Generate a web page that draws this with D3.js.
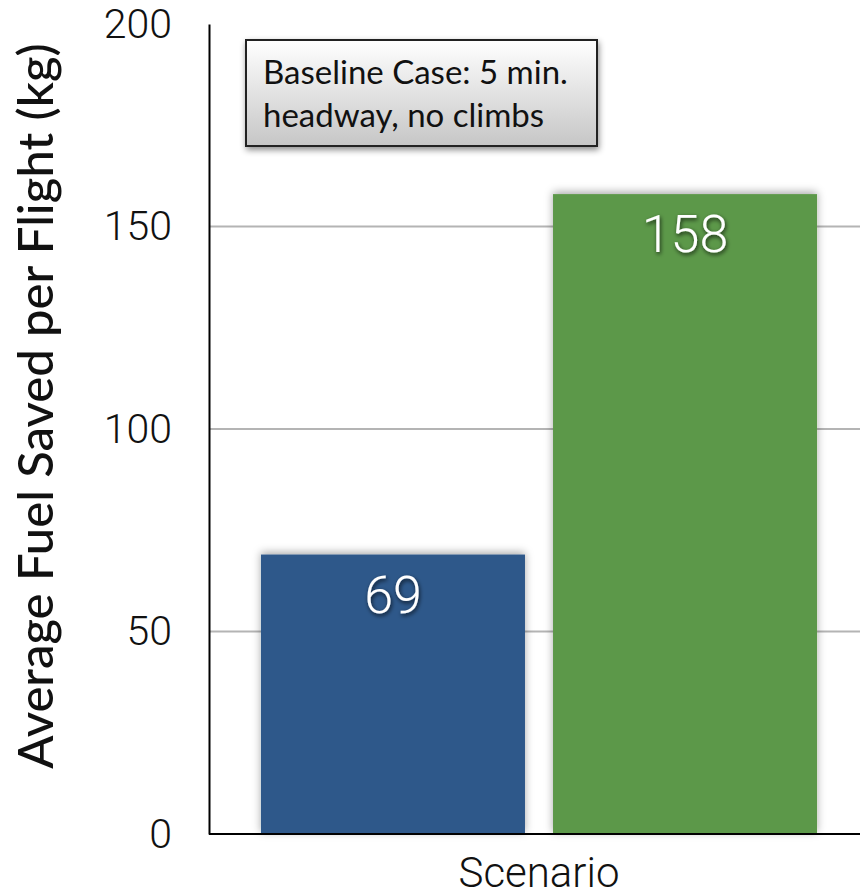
<!DOCTYPE html>
<html>
<head>
<meta charset="utf-8">
<script src="https://cdn.jsdelivr.net/npm/d3@7/dist/d3.min.js"></script>
<style>
  html, body { margin: 0; padding: 0; background: #fff; }
  svg { display: block; }
</style>
</head>
<body>
<script>
// Scenario results: average fuel saved per flight (kg)
const categories = ["Baseline", "Alternative"];
const values = [69, 158];
const barColors = ["#2E588A", "#5C984A"];
const yTicks = [0, 50, 100, 150, 200];
const yTitle = "Average Fuel Saved per Flight (kg)";
const xTitle = "Scenario";
const noteLines = ["Baseline Case: 5 min.", "headway, no climbs"];

const width = 860, height = 896;
const plot = { left: 209, top: 24, bottom: 834, right: 869 };

const svg = d3.select("body").append("svg")
  .attr("width", width).attr("height", height);

const defs = svg.append("defs");
const barShadow = defs.append("filter").attr("id", "barShadow")
  .attr("x", "-10%").attr("y", "-10%").attr("width", "120%").attr("height", "120%");
barShadow.append("feDropShadow").attr("dx", 0).attr("dy", -2)
  .attr("stdDeviation", 4).attr("flood-color", "#000").attr("flood-opacity", 0.35);

const textShadow = defs.append("filter").attr("id", "textShadow")
  .attr("x", "-20%").attr("y", "-20%").attr("width", "140%").attr("height", "140%");
textShadow.append("feDropShadow").attr("dx", 1).attr("dy", 2)
  .attr("stdDeviation", 2).attr("flood-color", "#000").attr("flood-opacity", 0.75);

const boxShadow = defs.append("filter").attr("id", "boxShadow")
  .attr("x", "-10%").attr("y", "-20%").attr("width", "120%").attr("height", "150%");
boxShadow.append("feDropShadow").attr("dx", 1).attr("dy", 3)
  .attr("stdDeviation", 3).attr("flood-color", "#000").attr("flood-opacity", 0.45);

const boxGrad = defs.append("linearGradient").attr("id", "boxGrad")
  .attr("x1", 0).attr("y1", 0).attr("x2", 0).attr("y2", 1);
boxGrad.append("stop").attr("offset", "0%").attr("stop-color", "#ffffff");
boxGrad.append("stop").attr("offset", "100%").attr("stop-color", "#c6c6c6");

const y = d3.scaleLinear().domain([0, 200]).range([plot.bottom, plot.top]);
const x = d3.scaleBand().domain(categories)
  .range([plot.left, plot.right]).paddingInner(0.096).paddingOuter(0.178);

// gridlines
svg.append("g").selectAll("line")
  .data(yTicks.filter(t => t > 0 && t < 200))
  .join("line")
  .attr("x1", plot.left).attr("x2", width)
  .attr("y1", d => y(d)).attr("y2", d => y(d))
  .attr("stroke", "#b4b4b4").attr("stroke-width", 2);

// bars
svg.append("g").selectAll("rect")
  .data(values)
  .join("rect")
  .attr("x", (d, i) => x(categories[i]))
  .attr("y", d => y(d))
  .attr("width", x.bandwidth())
  .attr("height", d => y(0) - y(d))
  .attr("fill", (d, i) => barColors[i])
  .attr("filter", "url(#barShadow)");

// value labels
svg.append("g").selectAll("text")
  .data(values)
  .join("text")
  .attr("x", (d, i) => x(categories[i]) + x.bandwidth() / 2)
  .attr("y", d => y(d) + 58)
  .attr("text-anchor", "middle")
  .attr("font-family", "Roboto, 'Liberation Sans', sans-serif")
  .attr("font-weight", 300)
  .attr("font-size", 52)
  .attr("fill", "#fff")
  .attr("filter", "url(#textShadow)")
  .text(d => d);

// axes
const yAxis = d3.axisLeft(y).tickValues(yTicks).tickSize(0).tickPadding(37);
const gy = svg.append("g").attr("transform", `translate(${plot.left},0)`).call(yAxis);
gy.select(".domain").attr("stroke", "#000").attr("stroke-width", 2);
gy.selectAll("text")
  .attr("font-family", "Roboto, 'Liberation Sans', sans-serif")
  .attr("font-weight", 300)
  .attr("font-size", 41)
  .attr("fill", "#111");

const xAxis = d3.axisBottom(x).tickSize(0).tickFormat("");
const gx = svg.append("g").attr("transform", `translate(0,${plot.bottom})`).call(xAxis);
gx.select(".domain").attr("stroke", "#000").attr("stroke-width", 2)
  .attr("d", `M${plot.left},0H${width}`);

// axis titles
svg.append("text")
  .attr("x", 539)
  .attr("y", 887)
  .attr("text-anchor", "middle")
  .attr("font-family", "Roboto, 'Liberation Sans', sans-serif")
  .attr("font-weight", 300)
  .attr("font-size", 42)
  .attr("fill", "#111")
  .text(xTitle);

svg.append("text")
  .attr("transform", `translate(53,406) rotate(-90)`)
  .attr("text-anchor", "middle")
  .attr("font-family", "Lato, 'Open Sans', sans-serif")
  .attr("font-weight", 500)
  .attr("font-size", 49)
  .attr("fill", "#111")
  .text(yTitle);

// annotation box
const note = svg.append("g");
note.append("rect")
  .attr("x", 246).attr("y", 40).attr("width", 351).attr("height", 106)
  .attr("fill", "url(#boxGrad)")
  .attr("stroke", "#222").attr("stroke-width", 2)
  .attr("filter", "url(#boxShadow)");
note.selectAll("text")
  .data(noteLines)
  .join("text")
  .attr("x", 263)
  .attr("y", (d, i) => 84 + i * 43)
  .attr("font-family", "Lato, 'Open Sans', sans-serif")
  .attr("font-size", 33)
  .attr("fill", "#111")
  .text(d => d);
</script>
</body>
</html>
